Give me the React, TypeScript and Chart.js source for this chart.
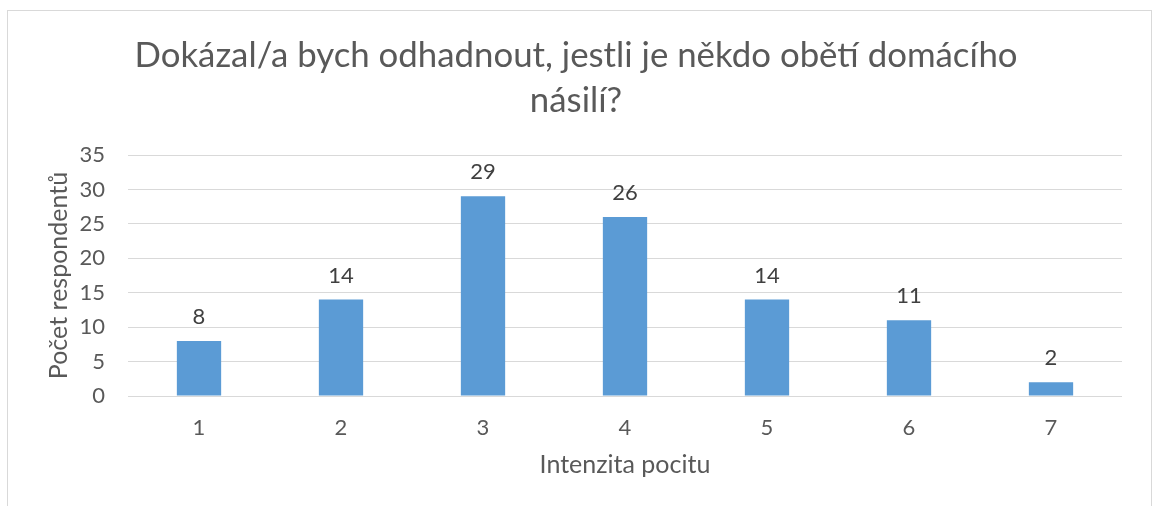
import React, { useEffect, useRef } from "react";
import { Chart, registerables } from "chart.js";

Chart.register(...registerables);

const categories = ["1", "2", "3", "4", "5", "6", "7"];
const respondents = [8, 14, 29, 26, 14, 11, 2];
const yMin = 0;
const yMax = 35;
const yStep = 5;
const titleLines = ["Dokázal/a bych odhadnout, jestli je někdo obětí domácího", "násilí?"];
const xAxisTitle = "Intenzita pocitu";
const yAxisTitle = "Počet respondentů";

const FONT = "Lato, 'Open Sans', sans-serif";
const TEXT = "#595959";
const GRID = "#d9d9d9";
const BAR = "#5b9bd5";

const dataLabels = {
  id: "dataLabels",
  afterDatasetsDraw(chart: any) {
    const ctx = chart.ctx;
    const meta = chart.getDatasetMeta(0);
    const values = chart.data.datasets[0].data;
    ctx.save();
    ctx.font = `22px ${FONT}`;
    ctx.fillStyle = "#404040";
    ctx.textAlign = "center";
    ctx.textBaseline = "alphabetic";
    meta.data.forEach((bar: any, i: number) => {
      ctx.fillText(String(values[i]), bar.x, bar.y - 17);
    });
    ctx.restore();
  },
};

export default function App() {
  const canvasRef = useRef<HTMLCanvasElement | null>(null);

  useEffect(() => {
    if (!canvasRef.current) return;
    const chart = new Chart(canvasRef.current, {
      type: "bar",
      data: {
        labels: categories,
        datasets: [
          {
            data: respondents,
            backgroundColor: BAR,
            barPercentage: 0.312,
            categoryPercentage: 1,
          },
        ],
      },
      options: {
        animation: false,
        responsive: false,
        maintainAspectRatio: false,
        layout: { padding: { left: 30, right: 30, top: 0, bottom: 0 } },
        plugins: {
          legend: { display: false },
          tooltip: { enabled: false },
          title: {
            display: true,
            text: titleLines,
            color: TEXT,
            font: { family: FONT, size: 34.8, weight: "normal", lineHeight: 45 / 34.8 },
            padding: { top: 33, bottom: 32 },
          },
        },
        scales: {
          x: {
            grid: { display: false, drawTicks: false },
            border: { display: false },
            ticks: { color: TEXT, font: { family: FONT, size: 22 }, padding: 19 },
            title: {
              display: true,
              text: xAxisTitle,
              color: TEXT,
              font: { family: FONT, size: 25 },
              padding: { top: 0, bottom: 26 },
            },
            afterFit(scale: any) {
              scale.height = 110;
            },
          },
          y: {
            min: yMin,
            max: yMax,
            grid: { color: GRID, lineWidth: 1, drawTicks: false },
            border: { display: false },
            ticks: {
              stepSize: yStep,
              color: TEXT,
              font: { family: FONT, size: 22 },
              padding: 23,
            },
            title: {
              display: true,
              text: yAxisTitle,
              color: TEXT,
              font: { family: FONT, size: 25 },
              padding: { top: 14, bottom: 0 },
            },
            afterFit(scale: any) {
              scale.width = 98;
            },
          },
        },
      },
      plugins: [dataLabels],
    });
    return () => chart.destroy();
  }, []);

  return (
    <div style={{ position: "absolute", left: 0, top: 0, width: 1152, height: 506, background: "#fff" }}>
      <div
        style={{
          position: "absolute",
          left: 7,
          top: 10,
          width: 1145,
          height: 496,
          boxSizing: "border-box",
          borderTop: `1px solid ${GRID}`,
          borderLeft: `1px solid ${GRID}`,
          borderRight: `1px solid ${GRID}`,
        }}
      />
      <canvas
        ref={canvasRef}
        width={1152}
        height={506}
        style={{ position: "absolute", left: 0, top: 0, width: 1152, height: 506 }}
      />
    </div>
  );
}
